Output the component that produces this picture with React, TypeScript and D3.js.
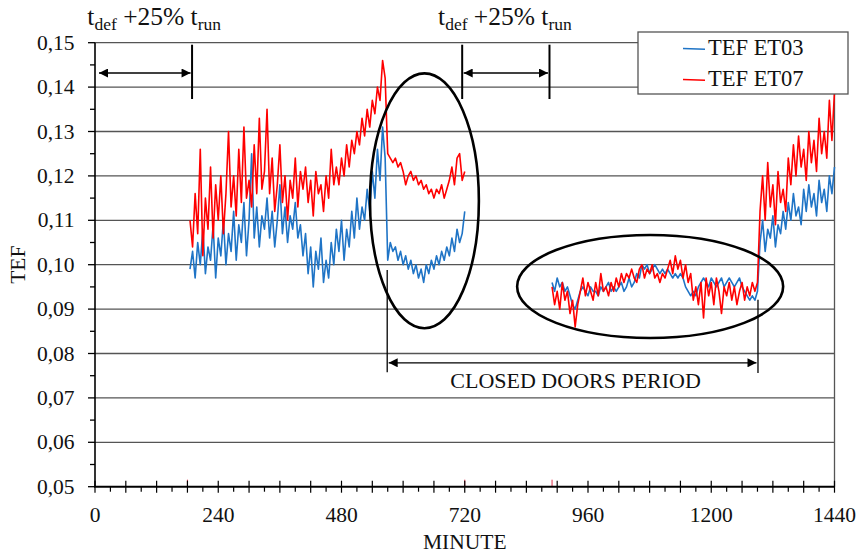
import { useEffect, useRef } from 'react';
import * as d3 from 'd3';

const W = 859;
const H = 553;

// sampling of the two recorded periods (minutes)
const STEP = 5;
const START_A = 185;
const START_B = 890;

// period A: 185 .. 720 min
const et03A = [
  0.099, 0.103, 0.097, 0.105, 0.100, 0.108, 0.098, 0.104, 0.101, 0.109, 0.097, 0.106, 0.102, 0.110, 0.100, 0.107,
  0.103, 0.112, 0.101, 0.109, 0.105, 0.114, 0.102, 0.110, 0.125, 0.106, 0.113, 0.104, 0.111, 0.108,
  0.115, 0.106, 0.112, 0.104, 0.110, 0.118, 0.107, 0.113, 0.105, 0.111, 0.108, 0.114, 0.106, 0.109,
  0.102, 0.107, 0.098, 0.104, 0.095, 0.103, 0.099, 0.106, 0.096, 0.101, 0.097, 0.105, 0.100, 0.108,
  0.103, 0.110, 0.101, 0.108, 0.104, 0.112, 0.106, 0.115, 0.108, 0.113, 0.110, 0.117, 0.112, 0.121, 0.115, 0.126, 0.119, 0.131, 0.124,
  0.101, 0.105, 0.103, 0.104, 0.101, 0.103, 0.100, 0.102, 0.099, 0.101, 0.098, 0.100, 0.097, 0.099, 0.096, 0.100,
  0.098, 0.101, 0.099, 0.102, 0.100, 0.103, 0.101, 0.104, 0.102, 0.106, 0.103, 0.108, 0.105, 0.107, 0.112,
];
const et07A = [
  0.110, 0.104, 0.116, 0.107, 0.126, 0.102, 0.115, 0.108, 0.122, 0.106, 0.118, 0.110, 0.120, 0.107, 0.116, 0.130,
  0.113, 0.120, 0.111, 0.126, 0.114, 0.131, 0.115, 0.119, 0.113, 0.127, 0.116, 0.133, 0.117, 0.121,
  0.135, 0.116, 0.124, 0.112, 0.118, 0.127, 0.114, 0.120, 0.110, 0.119, 0.115, 0.124, 0.113, 0.121,
  0.117, 0.122, 0.114, 0.119, 0.111, 0.121, 0.116, 0.118, 0.112, 0.120, 0.115, 0.126, 0.118, 0.122,
  0.118, 0.124, 0.120, 0.127, 0.122, 0.128, 0.125, 0.130, 0.127, 0.133, 0.129, 0.135, 0.131, 0.137, 0.134, 0.140, 0.137, 0.146, 0.142,
  0.125, 0.124, 0.123, 0.124, 0.122, 0.123, 0.121, 0.118, 0.120, 0.121, 0.119, 0.120, 0.118, 0.119, 0.117, 0.118,
  0.116, 0.117, 0.115, 0.117, 0.116, 0.118, 0.115, 0.117, 0.119, 0.122, 0.118, 0.124, 0.125, 0.119, 0.121,
];

// period B: 890 .. 1440 min
const et03B = [
  0.096, 0.094, 0.097, 0.095, 0.096, 0.094, 0.095, 0.093, 0.091,
  0.090, 0.092, 0.094, 0.095, 0.094, 0.093, 0.095, 0.094, 0.094, 0.093, 0.095, 0.094, 0.095, 0.096, 0.094, 0.095, 0.094,
  0.095, 0.096, 0.094, 0.095, 0.097, 0.095, 0.096, 0.098, 0.097,
  0.100, 0.099, 0.100, 0.098, 0.099, 0.100, 0.099, 0.098, 0.099, 0.098, 0.099,
  0.098, 0.097, 0.098, 0.097, 0.098, 0.097,
  0.095, 0.094, 0.093, 0.094, 0.093, 0.095,
  0.096, 0.097, 0.096, 0.095, 0.097, 0.096, 0.095, 0.096, 0.097, 0.095, 0.096, 0.097, 0.096, 0.095, 0.096, 0.097, 0.095,
  0.094, 0.093, 0.092, 0.093, 0.092, 0.094,
  0.105, 0.110, 0.103, 0.108, 0.106, 0.111, 0.104, 0.109, 0.107, 0.112, 0.108, 0.114, 0.110, 0.116, 0.111,
  0.113, 0.109, 0.117, 0.112, 0.118, 0.113, 0.116, 0.111, 0.119, 0.114, 0.117, 0.112, 0.120, 0.116, 0.122,
];
const et07B = [
  0.095, 0.091, 0.094, 0.090, 0.096, 0.092, 0.094, 0.089, 0.092,
  0.086, 0.091, 0.094, 0.097, 0.093, 0.096, 0.094, 0.092, 0.096, 0.093, 0.098, 0.094, 0.095, 0.093, 0.096, 0.094, 0.097,
  0.095, 0.098, 0.096, 0.098, 0.097, 0.099, 0.097, 0.096, 0.099,
  0.100, 0.097, 0.099, 0.098, 0.100, 0.097, 0.098, 0.096, 0.098, 0.097, 0.099,
  0.101, 0.098, 0.102, 0.099, 0.101, 0.097,
  0.100, 0.096, 0.098, 0.092, 0.095, 0.091,
  0.096, 0.088, 0.097, 0.093, 0.096, 0.091, 0.097, 0.094, 0.089, 0.095, 0.093, 0.096, 0.092, 0.095, 0.091, 0.094, 0.096,
  0.092, 0.095, 0.093, 0.096, 0.094, 0.096,
  0.112, 0.120, 0.110, 0.123, 0.113, 0.118, 0.109, 0.121, 0.114, 0.117, 0.112, 0.124, 0.118, 0.127, 0.120,
  0.129, 0.122, 0.126, 0.119, 0.130, 0.123, 0.128, 0.121, 0.133, 0.125, 0.130, 0.124, 0.137, 0.128, 0.139,
];

const yTicks = [0.05, 0.06, 0.07, 0.08, 0.09, 0.10, 0.11, 0.12, 0.13, 0.14, 0.15];
const xLabels = [0, 240, 480, 720, 960, 1200, 1440];
const seriesNames = ['TEF ET03', 'TEF ET07'];
const seriesColors = ['#1f74c6', '#ff0000'];

// annotations (minutes / TEF)
const tdefSpans = [[0, 189], [715, 885]];
const tdefLabelAt = [-15, 668];
const closedDoors = [569, 1291];
const closedDoorsLevel = 0.0779;
const closedDoorsLeftY = [0.0988, 0.0758];
const closedDoorsRightY = [0.0921, 0.0756];
const ellipses = [
  { m: 641.5, v: 0.1144, dm: 106, dv: 0.0287 },
  { m: 1081, v: 0.0951, dm: 259, dv: 0.0116 },
];
const redMarks = [180, 720, 890];

const FONT = "'Liberation Serif'";

export default function App() {
  const svgRef = useRef<SVGSVGElement | null>(null);

  useEffect(() => {
    const svg = d3.select(svgRef.current);
    svg.selectAll('*').remove();

    const x = d3.scaleLinear().domain([0, 1440]).range([95, 834.5]);
    const y = d3.scaleLinear().domain([0.05, 0.15]).range([486.7, 42.7]);

    const g = svg.append('g');

    const label = (sel: d3.Selection<any, any, any, any>, size: number) =>
      sel.style('font-family', FONT).style('font-size', `${size}px`).attr('fill', '#111');

    // horizontal grid
    g.selectAll('.grid')
      .data(yTicks.slice(1))
      .enter()
      .append('line')
      .attr('x1', x(0)).attr('x2', x(1440))
      .attr('y1', d => y(d)).attr('y2', d => y(d))
      .attr('stroke', '#555').attr('stroke-width', 1.3);

    g.append('line')
      .attr('x1', x(1440)).attr('x2', x(1440))
      .attr('y1', y(0.05)).attr('y2', y(0.15))
      .attr('stroke', '#555').attr('stroke-width', 1.3);

    // small red marks left on the axis by the data
    g.selectAll('.rm')
      .data(redMarks)
      .enter()
      .append('line')
      .attr('x1', d => x(d)).attr('x2', d => x(d))
      .attr('y1', y(0.05) - 7).attr('y2', y(0.05))
      .attr('stroke', '#e0304a').attr('stroke-width', 1);

    // axes
    g.append('line')
      .attr('x1', x(0)).attr('x2', x(0))
      .attr('y1', y(0.05)).attr('y2', y(0.15))
      .attr('stroke', '#000').attr('stroke-width', 1.6);
    g.append('line')
      .attr('x1', x(0) - 1).attr('x2', x(1440) + 0.5)
      .attr('y1', y(0.05)).attr('y2', y(0.05))
      .attr('stroke', '#000').attr('stroke-width', 2);

    // y ticks
    const yMinor = d3.range(0.055, 0.15, 0.01);
    g.selectAll('.yt')
      .data(yTicks)
      .enter()
      .append('line')
      .attr('x1', x(0) - 7).attr('x2', x(0))
      .attr('y1', d => y(d)).attr('y2', d => y(d))
      .attr('stroke', '#000').attr('stroke-width', 1.3);
    g.selectAll('.ym')
      .data(yMinor)
      .enter()
      .append('line')
      .attr('x1', x(0) - 5).attr('x2', x(0))
      .attr('y1', d => y(d)).attr('y2', d => y(d))
      .attr('stroke', '#000').attr('stroke-width', 1.3);
    label(g.selectAll('.yl')
      .data(yTicks)
      .enter()
      .append('text')
      .attr('x', 74.5)
      .attr('y', d => y(d) + 7)
      .attr('text-anchor', 'end')
      .text(d => d3.format('.2f')(d).replace('.', ',')), 21.5);

    // x ticks
    const xTicks = d3.range(0, 1441, 30);
    g.selectAll('.xt')
      .data(xTicks)
      .enter()
      .append('line')
      .attr('x1', d => x(d)).attr('x2', d => x(d))
      .attr('y1', d => (d % 60 === 0 ? y(0.05) - 6 : y(0.05)))
      .attr('y2', d => (d % 60 === 0 ? y(0.05) + 6 : y(0.05) + 5))
      .attr('stroke', '#000').attr('stroke-width', 1.2);
    label(g.selectAll('.xl')
      .data(xLabels)
      .enter()
      .append('text')
      .attr('x', d => x(d))
      .attr('y', 522)
      .attr('text-anchor', 'middle')
      .text(d => d), 21.5);

    // axis titles
    label(g.append('text')
      .attr('x', (x(0) + x(1440)) / 2)
      .attr('y', 549)
      .attr('text-anchor', 'middle')
      .text('MINUTE'), 21.5);
    label(g.append('text')
      .attr('transform', `translate(25, ${y(0.1)}) rotate(-90)`)
      .attr('text-anchor', 'middle')
      .text('TEF'), 21.5);

    // data
    const line = d3.line<[number, number]>()
      .x(d => x(d[0]))
      .y(d => y(d[1]));

    const toPts = (vals: number[], start: number) =>
      vals.map((v, i) => [start + i * STEP, v] as [number, number]);

    const series = [
      [toPts(et03A, START_A), toPts(et03B, START_B)],
      [toPts(et07A, START_A), toPts(et07B, START_B)],
    ];
    series.forEach((parts, si) => {
      parts.forEach(pts => {
        g.append('path')
          .attr('d', line(pts))
          .attr('fill', 'none')
          .attr('stroke', seriesColors[si])
          .attr('stroke-width', 1.6)
          .attr('stroke-linejoin', 'round');
      });
    });

    // arrow heads
    const defs = svg.append('defs');
    defs.append('marker')
      .attr('id', 'ah')
      .attr('viewBox', '0 0 10 10')
      .attr('refX', 10).attr('refY', 5)
      .attr('markerWidth', 10).attr('markerHeight', 9)
      .attr('markerUnits', 'userSpaceOnUse')
      .attr('orient', 'auto-start-reverse')
      .append('path')
      .attr('d', 'M0,0 L10,5 L0,10 Z')
      .attr('fill', '#000');

    // t_def + 25% t_run spans
    tdefSpans.forEach(([a, b], i) => {
      [a, b].forEach((m, j) => {
        if (i === 0 && j === 0) return;
        g.append('line')
          .attr('x1', x(m)).attr('x2', x(m))
          .attr('y1', y(0.15) + 2).attr('y2', 99)
          .attr('stroke', '#000').attr('stroke-width', 2);
      });
      g.append('line')
        .attr('x1', x(a) + (i === 0 ? 4 : 1.5)).attr('x2', x(b) - 1.5)
        .attr('y1', 73).attr('y2', 73)
        .attr('stroke', '#000').attr('stroke-width', 1.3)
        .attr('marker-start', 'url(#ah)')
        .attr('marker-end', 'url(#ah)');

      const t = label(g.append('text')
        .attr('x', x(tdefLabelAt[i]))
        .attr('y', 25), 25.5);
      t.append('tspan').text('t');
      t.append('tspan').style('font-size', '17.5px').attr('dy', 5).text('def');
      t.append('tspan').attr('dy', -5).text(' +25% t');
      t.append('tspan').style('font-size', '17.5px').attr('dy', 5).text('run');
    });

    // closed doors period
    g.append('line')
      .attr('x1', x(closedDoors[0])).attr('x2', x(closedDoors[0]))
      .attr('y1', y(closedDoorsLeftY[0])).attr('y2', y(closedDoorsLeftY[1]))
      .attr('stroke', '#000').attr('stroke-width', 1.3);
    g.append('line')
      .attr('x1', x(closedDoors[1])).attr('x2', x(closedDoors[1]))
      .attr('y1', y(closedDoorsRightY[0])).attr('y2', y(closedDoorsRightY[1]))
      .attr('stroke', '#000').attr('stroke-width', 1.3);
    g.append('line')
      .attr('x1', x(closedDoors[0]) + 1.5).attr('x2', x(closedDoors[1]) - 1.5)
      .attr('y1', y(closedDoorsLevel)).attr('y2', y(closedDoorsLevel))
      .attr('stroke', '#000').attr('stroke-width', 1.3)
      .attr('marker-start', 'url(#ah)')
      .attr('marker-end', 'url(#ah)');
    label(g.append('text')
      .attr('x', (x(closedDoors[0]) + x(closedDoors[1])) / 2 + 3)
      .attr('y', y(closedDoorsLevel) + 25)
      .attr('text-anchor', 'middle')
      .text('CLOSED DOORS PERIOD'), 22);

    // ellipses
    ellipses.forEach(e => {
      g.append('ellipse')
        .attr('cx', x(e.m))
        .attr('cy', y(e.v))
        .attr('rx', x(e.dm) - x(0))
        .attr('ry', y(0.05) - y(0.05 + e.dv))
        .attr('fill', 'none')
        .attr('stroke', '#000')
        .attr('stroke-width', 2.6);
    });

    // legend
    const lg = g.append('g').attr('transform', 'translate(638, 32)');
    lg.append('rect')
      .attr('width', 210).attr('height', 62)
      .attr('fill', '#fff')
      .attr('stroke', '#555').attr('stroke-width', 1.3);
    seriesNames.forEach((name, i) => {
      lg.append('line')
        .attr('x1', 45).attr('x2', 67)
        .attr('y1', 16.5 + i * 31).attr('y2', 16.5 + i * 31 + 0.8)
        .attr('stroke', seriesColors[i]).attr('stroke-width', 1.4);
      label(lg.append('text')
        .attr('x', 70).attr('y', 23 + i * 31)
        .text(name), 22.5);
    });
  }, []);

  return (
    <svg
      ref={svgRef}
      width={W}
      height={H}
      style={{ position: 'absolute', left: 0, top: 0, background: '#fff' }}
    />
  );
}
